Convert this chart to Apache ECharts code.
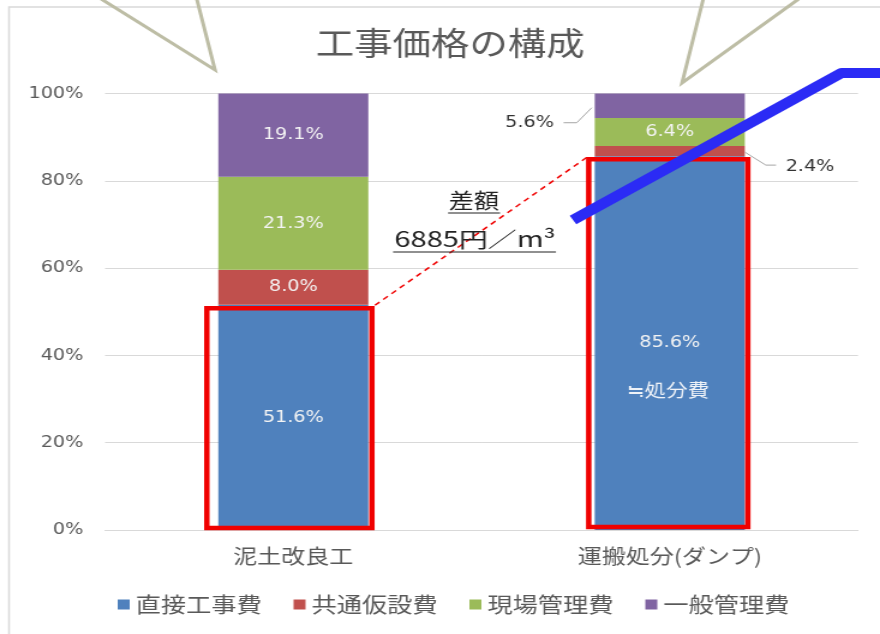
<!DOCTYPE html>
<html>
<head>
<meta charset="utf-8">
<script src="https://cdn.jsdelivr.net/npm/echarts@6/dist/echarts.min.js"></script>
<style>
  html, body { margin: 0; padding: 0; background: #ffffff; overflow: hidden; }
  /* the chart is laid out at a narrower width and stretched horizontally */
  #main { width: 733px; height: 634px; transform: scaleX(1.20055); transform-origin: 0 0; }
</style>
</head>
<body>
<div id="main"></div>
<script>
// categories and the cost shares (%) of each stacked segment
const categories = ['泥土改良工', '運搬処分(ダンプ)'];
const seriesNames = ['直接工事費', '共通仮設費', '現場管理費', '一般管理費'];
const directCost = [51.6, 85.6];     // 直接工事費
const commonTemp = [8.0, 2.4];       // 共通仮設費
const siteMgmt = [21.3, 6.4];        // 現場管理費
const generalMgmt = [19.1, 5.6];     // 一般管理費
const yTickMax = 100;
const yTickStep = 20;

const colors = ['#4f81bd', '#c0504d', '#9bbb59', '#8064a2'];
const numFont = 'DejaVu Sans';
const jpFont = 'Noto Sans CJK JP';
const BAR_W = 125;

const chart = echarts.init(document.getElementById('main'));

const insideLabel = {
  show: true,
  position: 'inside',
  color: '#f4f4f4',
  fontFamily: numFont,
  fontSize: 16,
  formatter: p => Number(p.value).toFixed(1) + '%'
};

// small segments of the second bar get their labels outside the bar
const outsideLeft = { position: 'left', distance: 34, offset: [0, 17], color: '#333333' };
const outsideRight = { position: 'right', distance: 34, offset: [0, 16], color: '#333333' };

function seriesOf(name, values, idx, special) {
  return {
    name: name,
    type: 'bar',
    stack: 'total',
    barWidth: BAR_W,
    itemStyle: { color: colors[idx] },
    label: insideLabel,
    emphasis: { disabled: true },
    data: values.map((v, i) => (special && special[i]) ? { value: v, label: special[i] } : v)
  };
}

const option = {
  animation: false,
  title: {
    text: '工事価格の構成',
    left: 263,
    top: 27,
    padding: 0,
    textStyle: { fontFamily: jpFont, fontSize: 32, fontWeight: 'normal', color: '#595959' }
  },
  grid: { left: 87.5, right: 18.3, top: 93.5, bottom: 104, containLabel: false },
  legend: {
    data: seriesNames,
    left: 93,
    top: 589,
    itemWidth: 10,
    itemHeight: 10,
    itemGap: 26.5,
    icon: 'rect',
    textStyle: { fontFamily: jpFont, fontSize: 21, color: '#595959' }
  },
  xAxis: {
    type: 'category',
    data: categories,
    axisLine: { lineStyle: { color: '#d9d9d9' } },
    axisTick: { show: false },
    axisLabel: { margin: 16, fontFamily: jpFont, fontSize: 20, color: '#595959' }
  },
  yAxis: {
    type: 'value',
    min: 0,
    max: yTickMax,
    interval: yTickStep,
    axisLine: { show: false },
    axisTick: { show: false },
    splitLine: { lineStyle: { color: '#d9d9d9', width: 1 } },
    axisLabel: { margin: 18, fontFamily: numFont, fontSize: 16, color: '#595959', formatter: '{value}%' }
  },
  series: [
    seriesOf(seriesNames[0], directCost, 0),
    seriesOf(seriesNames[1], commonTemp, 1, [null, outsideRight]),
    seriesOf(seriesNames[2], siteMgmt, 2),
    seriesOf(seriesNames[3], generalMgmt, 3, [null, outsideLeft])
  ]
};

chart.setOption(option);

// annotation overlay placed from the axes' own scales
const px = (cat, val) => chart.convertToPixel({ gridIndex: 0 }, [cat, val]);
const half = BAR_W / 2;
const c0 = px(0, 0)[0];
const c1 = px(1, 0)[0];
const baseY = px(0, 0)[1];
const top0 = px(0, directCost[0])[1];
const top1 = px(1, directCost[1])[1];

const rectL = { x: c0 - half - 9.5, y: top0 + 3.5, width: BAR_W + 12.5, height: baseY - 2 - (top0 + 3.5) };
const rectR = { x: c1 - half - 5, y: top1 + 3, width: BAR_W + 7.5, height: baseY - 3 - (top1 + 3) };

const yPurple = px(1, 100 - generalMgmt[1] / 2)[1] + 17;
const yRed = px(1, directCost[1] + commonTemp[1] / 2)[1] + 16;
const barL1 = c1 - half;
const barR1 = c1 + half;
const yMidBlue1 = px(1, directCost[1] / 2)[1];

const gray = '#bdbda5';
chart.setOption({
  graphic: [
    // outer frame
    { type: 'polyline', silent: true, z: 1,
      shape: { points: [[7.5, 640], [7.5, 7], [740, 7]] },
      style: { stroke: '#d9d9d9', lineWidth: 1.5, fill: null } },
    // callout pointers
    { type: 'polyline', silent: true, z: 20,
      shape: { points: [[84.3, -1], [179.1, 70], [163.9, -1]] },
      style: { stroke: gray, lineWidth: 3, fill: null, lineJoin: 'miter' } },
    { type: 'polyline', silent: true, z: 20,
      shape: { points: [[585.8, -1], [568.1, 83], [665.2, -1]] },
      style: { stroke: gray, lineWidth: 3, fill: null, lineJoin: 'miter' } },
    // red frames around the direct-cost segments
    { type: 'rect', silent: true, z: 30, shape: rectL,
      style: { stroke: '#f00000', lineWidth: 4.5, fill: null } },
    { type: 'rect', silent: true, z: 30, shape: rectR,
      style: { stroke: '#f00000', lineWidth: 4.5, fill: null } },
    // dashed connector between the frames
    { type: 'line', silent: true, z: 30,
      shape: { x1: rectL.x + rectL.width + 2.5, y1: rectL.y - 3, x2: rectR.x - 1.6, y2: rectR.y - 2 },
      style: { stroke: '#f00000', lineWidth: 1.5, lineDash: [5, 4] } },
    // leader lines for outside labels
    { type: 'polyline', silent: true, z: 25,
      shape: { points: [[barL1 - 26, yPurple], [barL1 - 15, yPurple], [barL1 - 2.5, yPurple - 15]] },
      style: { stroke: '#a6a6a6', lineWidth: 1, fill: null } },
    { type: 'polyline', silent: true, z: 25,
      shape: { points: [[barR1, yRed - 15], [barR1 + 17.5, yRed - 2], [barR1 + 26, yRed - 2]] },
      style: { stroke: '#a6a6a6', lineWidth: 1, fill: null } },
    // note inside the second bar
    { type: 'text', silent: true, z: 30, x: c1 - 1.6, y: yMidBlue1 + 47,
      style: { text: '≒処分費', fill: '#eef2f8', font: '18px "Noto Sans CJK JP"', align: 'center', verticalAlign: 'middle' } },
    // difference note
    { type: 'text', silent: true, z: 30, x: 394.8, y: 200,
      style: { text: '差額', fill: '#222222', font: '21px "Noto Sans CJK JP"', align: 'center', verticalAlign: 'middle' } },
    { type: 'line', silent: true, z: 30, shape: { x1: 373.2, y1: 213, x2: 416.5, y2: 213 },
      style: { stroke: '#222222', lineWidth: 1.2 } },
    { type: 'text', silent: true, z: 30, x: 395.7, y: 239, scaleX: 1.15,
      style: { text: '6885円／m³', fill: '#222222', font: '21px "Noto Sans CJK JP"', align: 'center', verticalAlign: 'middle' } },
    { type: 'line', silent: true, z: 30, shape: { x1: 327.4, y1: 252, x2: 463.1, y2: 252 },
      style: { stroke: '#222222', lineWidth: 1.2 } },
    // thick blue arrow line
    { type: 'polyline', silent: true, z: 40,
      shape: { points: [[477.3, 220], [700.9, 73], [740, 73]] },
      style: { stroke: '#2b2bf5', lineWidth: 10, fill: null, lineJoin: 'round' } }
  ]
});
</script>
</body>
</html>
